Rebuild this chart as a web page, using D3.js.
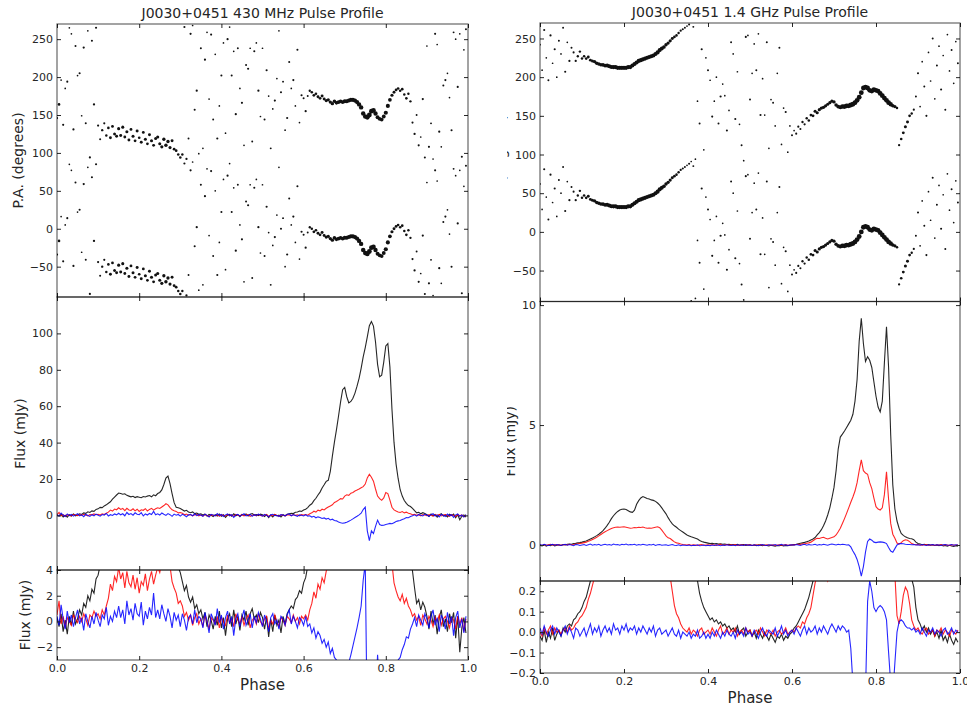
<!DOCTYPE html>
<html>
<head>
<meta charset="utf-8">
<script src="https://cdn.jsdelivr.net/npm/d3@7"></script>
<style>
  body { margin: 0; background: #fff; }
  text { font-family: "DejaVu Sans", sans-serif; }
</style>
</head>
<body>
<div id="chart"></div>
<script>
// ---- data (200 phase bins per profile) ----
const nBins = 200;
const phaseTicks = [0, 0.2, 0.4, 0.6, 0.8, 1.0];
const paTicks = [-50, 0, 50, 100, 150, 200, 250];
const lowFluxTicks = [0, 20, 40, 60, 80, 100];
const lowZoomTicks = [-2, 0, 2, 4];
const highFluxTicks = [0, 5, 10];
const highZoomTicks = [-0.2, -0.1, 0.0, 0.1, 0.2];
const lowTitle = "J0030+0451 430 MHz Pulse Profile";
const highTitle = "J0030+0451 1.4 GHz Pulse Profile";

// 430 MHz: total intensity, linear, circular (mJy)
const lowI = [
  0.3, -0.4, 0.6, -0.8, 0.1, -1.0, 0.4, -0.3, 0.8, -0.2,
  0.2, 0.9, 0.5, 1.4, 1.1, 2.0, 1.6, 2.5, 2.2, 3.3,
  3.6, 4.4, 4.3, 5.2, 5.8, 6.7, 7.5, 8.9, 10.1, 11.2,
  12.3, 12.0, 11.6, 11.9, 11.0, 10.6, 10.2, 10.5, 9.8, 10.3,
  10.0, 9.7, 10.4, 10.1, 10.6, 10.9, 10.2, 11.3, 10.8, 12.0,
  12.6, 14.0, 17.0, 20.5, 21.6, 17.5, 12.0, 7.0, 4.5, 4.2,
  3.8, 3.1, 2.4, 2.8, 1.9, 1.5, 1.9, 1.0, 1.3, 0.6,
  0.9, 0.2, 0.7, -0.4, 0.5, 0.1, -0.6, 0.4, -0.3, 0.8,
  -0.5, 0.3, -1.1, 0.2, 0.6, -0.4, 0.9, -0.2, 0.4, -0.7,
  0.5, 0.1, 0.8, -0.3, 0.6, 1.0, 0.2, 0.5, -0.1, 0.7,
  0.3, -0.6, 0.4, -1.2, 0.2, -0.8, 0.5, -0.3, 0.1, -0.9,
  0.4, -0.2, 0.6, 0.9, 1.2, 1.0, 1.7, 1.9, 2.4, 2.2,
  3.0, 3.4, 4.3, 5.6, 6.4, 8.1, 9.4, 11.2, 12.8, 15.1,
  16.8, 18.7, 19.3, 24.2, 32.6, 40.3, 47.1, 54.6, 62.4, 69.1,
  70.3, 65.2, 61.8, 62.6, 64.4, 67.2, 71.0, 75.3, 80.8, 87.1,
  92.2, 98.1, 104.2, 106.5, 104.0, 95.3, 83.0, 76.2, 77.1, 84.2,
  93.1, 94.4, 81.6, 58.3, 40.1, 28.2, 20.3, 14.1, 10.6, 8.2,
  6.6, 5.4, 4.9, 3.9, 2.6, 1.4, 1.7, 0.9, 1.5, 1.1,
  0.4, -0.6, 0.8, -0.2, 0.5, -1.0, 0.3, 0.9, -0.4, 0.2,
  -0.8, 0.6, -0.1, 0.7, -1.3, 0.4, -2.4, -0.5, 0.3, -0.9
];
const lowL = [
  0.5, 1.6, -0.2, 0.4, -0.5, 0.3, 0.0, -0.3, 0.5, 0.2,
  -0.1, 0.4, 0.0, 0.6, 0.2, -0.3, 0.5, 0.3, 0.8, 0.4,
  0.6, 0.2, 0.9, 0.5, 1.2, 1.8, 2.9, 2.4, 3.5, 3.1,
  4.2, 3.3, 3.8, 2.6, 3.9, 3.0, 2.7, 3.6, 2.5, 3.4,
  2.2, 3.1, 2.8, 3.7, 2.4, 3.3, 3.9, 2.9, 3.6, 4.2,
  3.8, 4.6, 5.4, 6.4, 5.8, 4.3, 3.1, 2.6, 2.2, 1.4,
  1.6, 1.2, 0.4, 0.7, 0.1, 0.5, -0.3, 0.3, 0.6, -0.2,
  0.2, -0.4, 0.5, 0.0, -0.6, 0.3, 0.1, -0.2, 0.4, -0.5,
  0.3, 0.0, -0.3, 0.5, -0.1, 0.2, -0.4, 0.6, 0.1, -0.2,
  0.4, -0.3, 0.2, 0.5, -0.5, 0.1, 0.3, -0.2, 0.6, 0.0,
  -0.3, 0.2, 0.4, -0.6, 0.1, -0.2, 0.5, 0.0, -0.4, 0.3,
  0.1, -0.3, 0.4, 0.2, -0.1, 0.5, 0.0, 0.3, -0.2, 0.4,
  0.2, 0.5, 0.1, 0.9, 1.4, 2.3, 1.8, 2.9, 2.5, 3.4,
  3.0, 3.9, 4.6, 5.2, 5.8, 7.1, 7.6, 8.4, 9.2, 9.0,
  10.6, 11.3, 11.0, 12.2, 12.6, 13.4, 13.9, 14.5, 15.2, 15.8,
  17.2, 20.6, 22.6, 21.0, 18.8, 14.5, 10.6, 9.2, 8.3, 9.6,
  12.6, 12.0, 8.4, 4.5, 3.0, 2.4, 1.9, 1.6, 2.1, 1.4,
  1.8, 1.2, 0.9, 0.4, 0.6, 0.1, 0.4, -0.3, 0.5, 0.2,
  -0.2, 0.4, 0.1, -0.4, 0.3, 0.0, 0.5, -0.3, 0.2, 0.4,
  0.0, -0.5, 0.3, 0.1, -0.6, 0.4, -0.2, 0.3, -0.8, 0.2
];
const lowV = [
  0.4, -0.3, 1.3, 0.2, -0.6, 0.8, -0.1, 0.5, -0.4, 0.3,
  0.9, -0.2, 0.3, -0.7, 0.6, 0.0, -0.5, 0.4, -0.2, 0.7,
  0.1, -0.4, 0.5, 0.2, 1.1, -0.3, 0.4, 0.0, 0.8, 0.3,
  1.2, 0.3, 0.9, -0.2, 1.6, 0.5, 1.0, 0.1, 1.4, 0.6,
  0.4, 1.5, -0.3, 0.8, 0.2, 1.1, 0.5, 2.2, 0.3, 0.9,
  0.2, 1.3, 0.6, 0.0, 1.0, 0.4, -0.5, 0.7, 0.1, 0.5,
  -0.4, 0.6, 0.1, -0.7, 0.3, 0.5, -0.2, 0.9, -0.1, 0.4,
  0.2, -0.5, 0.7, 0.0, -0.9, 0.6, 0.2, -0.3, 1.0, -0.1,
  0.5, -0.6, 0.3, 0.8, -0.2, 0.4, -1.1, 0.2, 0.6, -0.4,
  0.3, 0.9, -0.3, 0.1, 0.6, -0.5, 0.4, -0.1, 0.7, 0.2,
  -0.4, 0.5, 0.0, -0.8, 0.3, 0.6, -0.2, 0.1, -0.6, 0.4,
  0.2, -0.3, 0.5, 0.9, -0.2, 0.4, 0.0, -0.5, 0.3, 0.1,
  -0.3, 0.4, -0.4, -0.2, -0.9, -0.5, -1.3, -0.8, -1.1, -1.7,
  -1.4, -2.0, -1.6, -2.5, -2.1, -2.8, -3.0, -3.6, -4.0, -4.3,
  -4.1, -3.8, -3.2, -2.6, -1.9, -1.2, -0.5, 0.3, 1.2, 3.2,
  4.5, -8.5, -13.8, -8.5, -10.0, -6.0, -2.6, -5.0, -5.5, -5.4,
  -5.0, -4.7, -4.4, -4.6, -4.0, -3.4, -3.0, -2.8, -2.2, -1.8,
  -1.2, -1.3, -0.6, -0.2, 0.3, -0.4, 0.5, 0.1, -0.3, 0.6,
  0.2, -0.5, 0.4, 0.9, -0.3, 0.3, -0.8, 0.5, 0.1, -0.6,
  0.7, -0.2, 0.4, -1.1, 0.3, 0.8, -0.5, 0.2, -0.9, 0.4
];
// 430 MHz position angle (degrees, one turn of 180; drawn at PA and PA+180)
const lowPA = [
  -34, -16, 16, -43, 5, 14, 85, 77, -49, 61,
  22, 25, -31, 59, -41, 81, -86, 68, -16, 85,
  -44, -62, -50, -41, -57, -47, -60, -45, -55, -58,
  -48, -57, -46, -59, -52, -63, -49, -58, -64, -51,
  -60, -66, -53, -62, -68, -56, -64, -70, -61, -59,
  -68, -72, -62, -70, -65, -73, -64, -75, -77, -82,
  -86, -82, 86, -88, -61, 77, 88, -23, 2, -81,
  58, -74, 43, 79, -9, 76, -36, 50, -61, -18,
  22, 65, -54, 70, 86, 22, 54, -29, 58, 5,
  -14, -70, 36, 31, 58, -65, 54, 65, 2, -32,
  58, -36, 29, -5, -74, -22, -11, 18, 81, 0,
  14, -50, -34, 40, 5, 16, -18, 56, -40, -4,
  -8, -25, -5, 2, 0, -4, -2, -6, -8, -5,
  -9, -11, -10, -13, -15, -12, -14, -13, -12, -13,
  -12, -12, -11, -10, -10, -11, -13, -16, -20, -28,
  -32, -33, -30, -25, -24, -28, -33, -35, -36, -32,
  -27, -18, -10, -4, 0, 3, 5, 2, 4, -3,
  -8, -2, -12, -40, -55, -30, -70, -59, -9, -86,
  61, -72, -41, -88, 77, 63, -52, -72, 9, 16,
  25, -7, -50, 79, 70, 7, 77, -85, 56, 83
];

// 1.4 GHz
const highI = [
  -0.02, -0.04, 0.01, -0.05, 0.00, -0.03, 0.02, -0.04, -0.01, 0.01,
  -0.02, 0.02, 0.00, 0.03, 0.04, 0.03, 0.06, 0.07, 0.09, 0.10,
  0.12, 0.15, 0.17, 0.21, 0.25, 0.29, 0.34, 0.39, 0.45, 0.52,
  0.60, 0.70, 0.82, 0.95, 1.10, 1.22, 1.32, 1.40, 1.46, 1.49,
  1.50, 1.48, 1.43, 1.38, 1.36, 1.45, 1.70, 1.85, 1.96, 2.02,
  1.98, 1.94, 1.92, 1.88, 1.86, 1.82, 1.75, 1.66, 1.55, 1.42,
  1.30, 1.14, 1.00, 0.88, 0.80, 0.74, 0.66, 0.60, 0.54, 0.48,
  0.42, 0.38, 0.34, 0.31, 0.28, 0.25, 0.19, 0.15, 0.12, 0.10,
  0.08, 0.06, 0.07, 0.05, 0.06, 0.04, 0.05, 0.03, 0.04, 0.02,
  0.03, 0.01, 0.02, 0.00, 0.03, -0.01, 0.01, 0.02, -0.02, 0.00,
  0.01, -0.02, 0.00, -0.03, 0.01, -0.01, -0.03, 0.00, -0.02, -0.04,
  -0.01, -0.03, -0.05, -0.02, -0.03, -0.01, -0.04, -0.02, -0.03, -0.01,
  0.00, 0.02, 0.03, 0.05, 0.07, 0.09, 0.11, 0.14, 0.17, 0.21,
  0.25, 0.31, 0.42, 0.52, 0.64, 0.80, 1.00, 1.25, 1.55, 1.95,
  2.40, 3.10, 4.00, 4.50, 4.62, 4.75, 4.90, 5.05, 5.20, 5.45,
  6.00, 6.90, 8.50, 9.45, 8.40, 7.65, 7.85, 7.70, 7.40, 6.80,
  6.20, 5.75, 5.55, 6.00, 7.60, 9.10, 7.40, 4.60, 2.50, 1.50,
  1.00, 0.70, 0.48, 0.40, 0.34, 0.30, 0.27, 0.26, 0.22, 0.12,
  0.06, 0.04, 0.01, 0.03, 0.00, 0.02, -0.01, 0.01, -0.02, 0.00,
  -0.03, 0.01, -0.04, -0.02, -0.05, -0.01, -0.04, -0.06, -0.03, -0.05
];
const highL = [
  0.00, -0.02, 0.02, -0.01, 0.01, 0.03, -0.01, 0.02, 0.00, 0.01,
  -0.01, 0.01, 0.02, 0.00, 0.03, 0.01, 0.02, 0.04, 0.05, 0.07,
  0.08, 0.10, 0.12, 0.16, 0.19, 0.23, 0.27, 0.32, 0.38, 0.44,
  0.50, 0.55, 0.60, 0.65, 0.69, 0.72, 0.74, 0.75, 0.74, 0.75,
  0.76, 0.74, 0.72, 0.70, 0.71, 0.73, 0.72, 0.74, 0.73, 0.75,
  0.72, 0.70, 0.71, 0.70, 0.72, 0.74, 0.76, 0.72, 0.62, 0.50,
  0.38, 0.30, 0.27, 0.20, 0.13, 0.09, 0.07, 0.04, 0.02, 0.01,
  0.00, 0.02, -0.01, 0.01, 0.00, -0.02, 0.01, 0.02, -0.01, 0.00,
  0.01, -0.01, 0.02, 0.00, -0.02, 0.01, 0.03, -0.01, 0.00, 0.02,
  -0.01, 0.01, 0.00, 0.02, -0.02, 0.00, 0.01, -0.01, 0.02, 0.00,
  0.01, -0.02, 0.00, 0.01, -0.01, 0.02, 0.00, -0.02, 0.01, 0.00,
  -0.01, 0.01, -0.02, 0.00, 0.01, -0.01, 0.00, 0.02, -0.01, 0.00,
  0.01, 0.00, 0.02, 0.03, 0.02, 0.05, 0.04, 0.07, 0.09, 0.12,
  0.18, 0.24, 0.28, 0.27, 0.30, 0.32, 0.28, 0.25, 0.28, 0.31,
  0.34, 0.42, 0.55, 0.70, 0.90, 1.10, 1.32, 1.55, 1.78, 2.00,
  2.25, 2.60, 3.10, 3.55, 3.10, 3.00, 2.95, 2.60, 2.35, 1.95,
  1.60, 1.50, 1.46, 1.55, 2.10, 3.05, 1.90, 0.90, 0.45, 0.28,
  0.08, 0.04, 0.10, 0.18, 0.22, 0.20, 0.14, 0.06, 0.03, 0.01,
  0.02, 0.00, -0.01, 0.01, 0.02, -0.01, 0.00, 0.01, -0.02, 0.01,
  0.00, 0.02, -0.01, 0.01, 0.00, -0.02, 0.01, 0.00, -0.01, 0.01
];
const highV = [
  0.02, -0.01, 0.03, 0.00, -0.02, 0.01, 0.03, -0.01, 0.02, 0.00,
  -0.02, 0.01, 0.03, -0.01, 0.02, 0.00, -0.03, 0.02, 0.01, -0.02,
  0.00, 0.02, -0.02, 0.01, 0.04, -0.01, 0.02, 0.00, 0.03, -0.02,
  0.01, 0.03, 0.00, 0.02, -0.01, 0.04, 0.01, 0.02, -0.01, 0.03,
  0.01, 0.04, 0.00, 0.02, 0.01, 0.03, -0.01, 0.02, 0.00, 0.03,
  0.01, -0.01, 0.02, 0.00, 0.03, -0.02, 0.01, 0.02, -0.01, 0.00,
  0.01, -0.02, 0.00, 0.02, -0.01, -0.02, 0.01, -0.03, 0.00, -0.01,
  -0.02, 0.00, -0.03, -0.01, -0.02, 0.01, -0.03, -0.02, 0.00, -0.03,
  -0.01, -0.03, 0.00, -0.02, 0.01, -0.01, -0.03, 0.00, -0.02, 0.01,
  -0.01, -0.02, 0.00, -0.03, 0.01, -0.01, 0.00, -0.02, 0.02, -0.01,
  0.00, -0.02, 0.01, -0.01, -0.03, 0.00, 0.02, -0.01, -0.02, 0.01,
  0.00, -0.01, 0.02, -0.02, 0.00, 0.03, -0.01, 0.01, -0.02, 0.00,
  0.01, -0.01, 0.02, 0.00, -0.02, 0.01, 0.03, -0.01, 0.02, 0.00,
  0.01, 0.03, -0.01, 0.02, 0.00, 0.03, 0.01, -0.01, 0.02, 0.04,
  0.02, 0.00, 0.03, 0.01, 0.03, 0.02, 0.00, 0.01, -0.08, -0.25,
  -0.40, -0.60, -0.90, -1.30, -0.90, -0.30, 0.15, 0.25, 0.20, 0.12,
  0.10, 0.12, 0.13, 0.12, 0.10, 0.06, -0.10, -0.25, -0.30, -0.15,
  0.00, 0.05, 0.06, 0.05, 0.03, 0.02, 0.02, 0.01, 0.02, 0.00,
  0.01, -0.01, 0.02, 0.00, -0.02, 0.01, 0.00, 0.02, -0.01, 0.01,
  0.00, -0.02, 0.01, 0.02, -0.01, 0.00, 0.02, -0.01, 0.01, 0.00
];
const highPA = [
  62, 29, 81, 45, 16, 74, 38, 56, 20, 67,
  50, 84, 27, 65, 41, 58, 52, 41, 47, 53,
  44, 47, 44, 46, 42, 41, 40, 38, 37, 36,
  36, 35, 35, 34, 33, 33, 33, 32, 32, 32,
  32, 32, 33, 33, 35, 37, 39, 41, 42, 43,
  44, 45, 46, 47, 48, 50, 52, 55, 57, 59,
  62, 64, 67, 70, 72, 74, 77, 80, 82, 84,
  86, 88, -89, 85, -86, -11, -40, 56, -74, 45,
  29, 16, -31, -11, 20, -40, -5, 11, -4, -49,
  -23, 65, 50, -34, 27, -41, -68, -88, 72, 74,
  -9, 25, 63, 29, 76, -29, 18, -29, 65, -72,
  -9, -13, -43, 25, 58, -67, -20, -25, -77, -43,
  -55, -49, -53, -44, -47, -38, -41, -33, -36, -29,
  -30, -24, -26, -22, -20, -19, -17, -15, -13, -11,
  -12, -16, -18, -19, -18, -18, -17, -17, -16, -15,
  -13, -10, -6, 0, 6, 7, 6, 3, 2, 4,
  3, 2, -1, -4, -7, -10, -13, -15, -17, -18,
  -20, -68, -60, -52, -44, -38, -30, -27, -22, -5,
  25, -18, 40, 8, -30, 52, 15, 70, -8, 35,
  60, 4, 48, -22, 75, 28, 55, 12, 66, 38
];

// ---- layout ----
const W = 967, H = 706;
const txt = "#262626";
const svg = d3.select("#chart").append("svg").attr("width", W).attr("height", H);
svg.append("rect").attr("width", W).attr("height", H).attr("fill", "#fff");
const defs = svg.append("defs");

const columns = [
  { id: "low", title: lowTitle, x0: 57, x1: 468, edges: [24, 297, 570, 660],
    I: lowI, L: lowL, V: lowV, PA: lowPA, noise: 0.5,
    fluxDomain: [-30, 120], fluxTicks: lowFluxTicks, fluxFmt: d3.format("d"),
    zoomDomain: [-3, 4], zoomTicks: lowZoomTicks, zoomFmt: d3.format("d"), clipX: 0 },
  { id: "high", title: highTitle, x0: 540, x1: 960, edges: [23, 301.5, 581, 673],
    I: highI, L: highL, V: highV, PA: highPA, noise: 0.03,
    fluxDomain: [-1.5, 10.15], fluxTicks: highFluxTicks, fluxFmt: d3.format("d"),
    zoomDomain: [-0.2, 0.25], zoomTicks: highZoomTicks, zoomFmt: d3.format(".1f"), clipX: 507 }
];

function styleAxis(a) {
  a.attr("font-family", "DejaVu Sans, sans-serif").attr("font-size", 11).attr("color", txt);
  a.select(".domain").remove();
}

function drawPanel(g, c, key, top, bottom, y, ticks, fmt, ylabel, isBottom) {
  const x = c.x;
  const clipId = "clip-" + c.id + "-" + key;
  defs.append("clipPath").attr("id", clipId).append("rect")
    .attr("x", c.x0).attr("y", top).attr("width", c.x1 - c.x0).attr("height", bottom - top);
  const plot = g.append("g").attr("clip-path", "url(#" + clipId + ")");

  const yl = g.append("g").attr("transform", "translate(" + c.x0 + ",0)")
    .call(d3.axisLeft(y).tickValues(ticks).tickFormat(fmt).tickSize(-4).tickPadding(4))
    .call(styleAxis);
  g.append("g").attr("transform", "translate(" + c.x1 + ",0)")
    .call(d3.axisRight(y).tickValues(ticks).tickFormat("").tickSize(-4)).call(styleAxis);
  g.append("g").attr("transform", "translate(0," + top + ")")
    .call(d3.axisTop(x).tickValues(phaseTicks).tickFormat("").tickSize(-4)).call(styleAxis);
  g.append("g").attr("transform", "translate(0," + bottom + ")")
    .call(d3.axisBottom(x).tickValues(phaseTicks)
      .tickFormat(isBottom ? d3.format(".1f") : "").tickSize(-4).tickPadding(4))
    .call(styleAxis);

  g.append("rect").attr("x", c.x0).attr("y", top)
    .attr("width", c.x1 - c.x0).attr("height", bottom - top)
    .attr("fill", "none").attr("stroke", "#000").attr("stroke-opacity", 0.6).attr("stroke-width", 1.2);

  // y label placed left of the widest tick label, like matplotlib does
  let maxW = 0;
  yl.selectAll("text").each(function() { maxW = Math.max(maxW, this.getBBox().width); });
  const bx = c.x0 - 4 - maxW - 4 - 3, cy = (top + bottom) / 2;
  g.append("text").attr("x", bx).attr("y", cy)
    .attr("transform", "rotate(-90," + bx + "," + cy + ")")
    .attr("text-anchor", "middle").attr("font-size", 14).attr("fill", txt)
    .text(ylabel);
  return plot;
}

columns.forEach(c => {
  const clipCol = "col-" + c.id;
  defs.append("clipPath").attr("id", clipCol).append("rect")
    .attr("x", c.clipX).attr("y", 0).attr("width", W - c.clipX).attr("height", H);
  const g = svg.append("g").attr("clip-path", "url(#" + clipCol + ")");
  const [t0, t1, t2, t3] = c.edges;
  c.x = d3.scaleLinear().domain([0, 1]).range([c.x0, c.x1]);
  const binPhase = i => i / nBins;

  g.append("text").attr("x", (c.x0 + c.x1) / 2).attr("y", t0 - 6)
    .attr("text-anchor", "middle").attr("font-size", 14).attr("fill", txt).text(c.title);

  // --- position angle ---
  const yPA = d3.scaleLinear().domain([-90, 270]).range([t1, t0]);
  const paPlot = drawPanel(g, c, "pa", t0, t1, yPA, paTicks, d3.format("d"), "P.A. (degrees)", false);
  const pts = [];
  c.PA.forEach((pa, i) => {
    const snr = Math.max(c.L[i], 0) / (40 * c.noise);
    const r = 0.85 + 1.55 * Math.min(1, Math.sqrt(snr));
    pts.push({ i, pa, r }, { i, pa: pa + 180, r });
  });
  paPlot.selectAll("circle").data(pts).join("circle")
    .attr("cx", d => c.x(binPhase(d.i)))
    .attr("cy", d => yPA(d.pa))
    .attr("r", d => d.r)
    .attr("fill", "#111");

  // --- flux and zoomed flux ---
  const series = [[c.I, "#000"], [c.L, "#ff0000"], [c.V, "#0000ff"]];
  const yF = d3.scaleLinear().domain(c.fluxDomain).range([t2, t1]);
  const yZ = d3.scaleLinear().domain(c.zoomDomain).range([t3, t2]);
  const fPlot = drawPanel(g, c, "flux", t1, t2, yF, c.fluxTicks, c.fluxFmt, "Flux (mJy)", false);
  const zPlot = drawPanel(g, c, "zoom", t2, t3, yZ, c.zoomTicks, c.zoomFmt, "Flux (mJy)", true);
  [[fPlot, yF], [zPlot, yZ]].forEach(([p, y]) => {
    const line = d3.line().x((d, i) => c.x(binPhase(i))).y(d => y(d));
    series.forEach(([vals, col]) => {
      p.append("path").attr("d", line(vals))
        .attr("fill", "none").attr("stroke", col).attr("stroke-width", 1.1)
        .attr("stroke-opacity", 0.85);
    });
  });

  g.append("text").attr("x", (c.x0 + c.x1) / 2).attr("y", t3 + 30)
    .attr("text-anchor", "middle").attr("font-size", 15).attr("fill", txt).text("Phase");
});
</script>
</body>
</html>
